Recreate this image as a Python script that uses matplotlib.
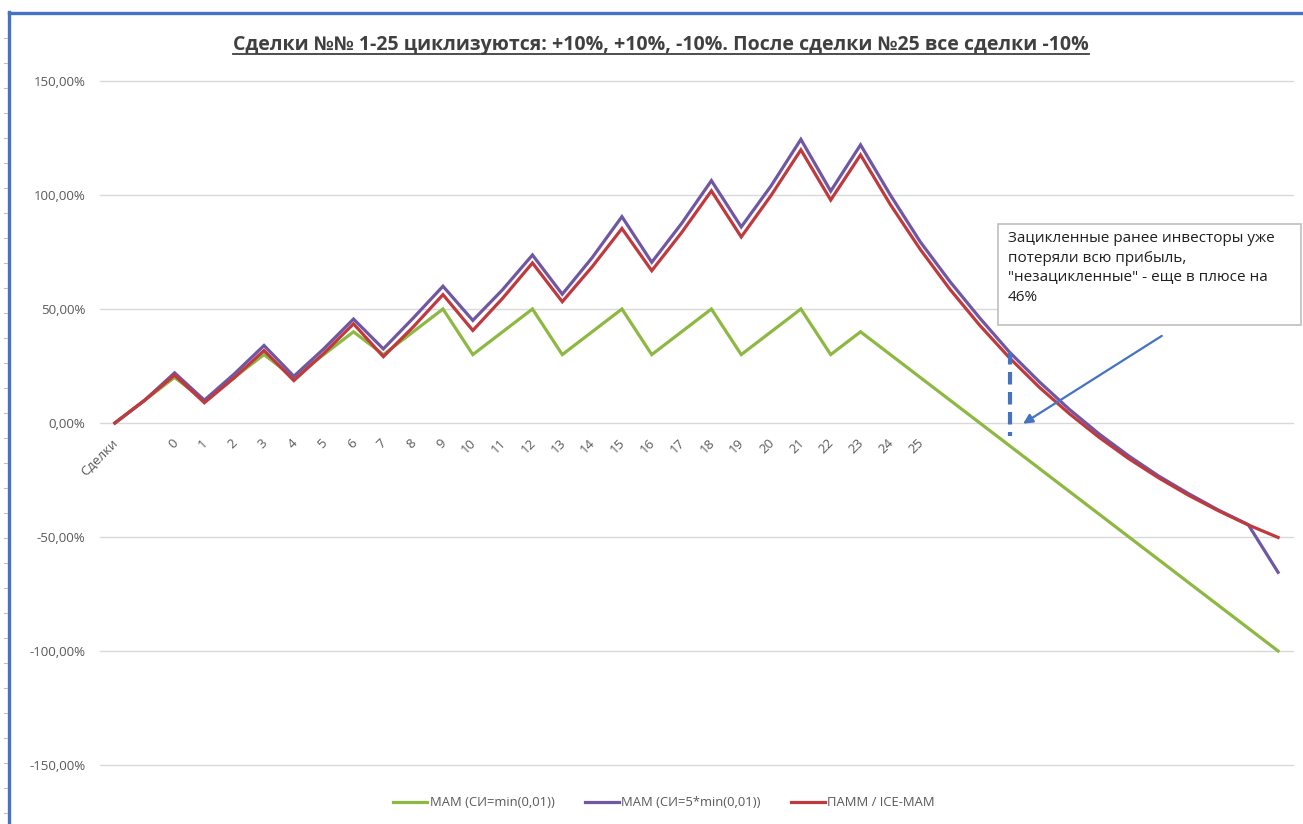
import matplotlib
matplotlib.use("Agg")
import matplotlib.pyplot as plt
from matplotlib.lines import Line2D
from matplotlib.patches import Rectangle
from matplotlib.ticker import FuncFormatter

plt.rcParams['font.family'] = ['Open Sans', 'DejaVu Sans']

# Category labels along the trade axis
categories = ['Сделки', ''] + [str(i) for i in range(26)] + [''] * 12

# Cumulative result, %
mam_min = [0, 10, 20, 10, 20, 30, 20, 30, 40, 30,
           40, 50, 30, 40, 50, 30, 40, 50, 30, 40,
           50, 30, 40, 50, 30, 40, 30, 20, 10, 0,
           -10, -20, -30, -40, -50, -60, -70, -80, -90, -100]
mam_5min = [0, 10, 22, 10, 21.5, 34, 20.5, 32.5, 45.6, 32.5,
            46, 60, 45, 58.5, 73.7, 56.5, 72.5, 90.5, 70.5, 87.5,
            106.3, 86, 104, 124.4, 101.7, 122, 100, 79.5, 62, 46,
            31, 18, 6, -4.8, -14.5, -23.3, -31, -38.2, -44.6, -65.5]
pamm = [0, 10, 21, 8.9, 19.8, 31.8, 18.6, 30.5, 43.5, 29.1,
        42.1, 56.3, 40.6, 54.7, 70.2, 53.2, 68.5, 85.3, 66.8, 83.5,
        101.8, 81.6, 99.8, 119.8, 97.8, 117.6, 95.8, 76.2, 58.6, 42.8,
        28.5, 15.6, 4.1, -6.3, -15.7, -24.1, -31.7, -38.5, -44.7, -50.2]

series_names = ['МАМ (СИ=min(0,01))', 'МАМ (СИ=5*min(0,01))', 'ПАММ / ICE-МАМ']
series_colors = ['#8DB842', '#7057A3', '#C0393D']

y_ticks = [-150, -100, -50, 0, 50, 100, 150]

title = 'Сделки №№ 1-25 циклизуются: +10%, +10%, -10%. После сделки №25 все сделки -10%'
note = ('Зацикленные ранее инвесторы уже\n'
        'потеряли всю прибыль,\n'
        '"незацикленные" - еще в плюсе на\n'
        '46%')

W, H = 1303, 824
fig = plt.figure(figsize=(W / 100, H / 100), dpi=100)
fig.patch.set_facecolor('white')

ax = fig.add_axes([100 / W, 1 - 765 / H, 1193 / W, 684 / H])
x = list(range(len(categories)))

for vals, name, col in zip([mam_min, mam_5min, pamm], series_names, series_colors):
    ax.plot(x, vals, color=col, lw=2.3, label=name, solid_joinstyle='miter', zorder=3)

ax.set_xlim(-0.5, len(categories) - 0.5)
ax.set_ylim(-150, 150)
ax.set_yticks(y_ticks)
ax.yaxis.set_major_formatter(FuncFormatter(lambda v, p: f'{v:.2f}%'.replace('.', ',')))
ax.grid(axis='y', color='#D9D9D9', lw=1)
for gl in ax.get_ygridlines():
    gl.set_clip_on(False)
ax.set_axisbelow(True)
for s in ax.spines.values():
    s.set_visible(False)
ax.tick_params(axis='y', length=0, pad=10.5, labelsize=9.5, labelcolor='#595959')
ax.tick_params(axis='x', length=0, labelbottom=False)

# category labels hang below the zero line
for xi, lab in zip(x, categories):
    if lab:
        ax.annotate(lab, xy=(xi, 0), xytext=(-2.4, -9.6), textcoords='offset points',
                    rotation=45, ha='right', va='top', rotation_mode='anchor',
                    fontsize=9.5, color='#595959', annotation_clip=False)

# vertical dashed marker and pointer arrow
ax.plot([30, 30], [31, -5.5], color='#4472C4', lw=3, ls=(0, (3, 1.8)), zorder=4)
ax.annotate('', xy=(30.45, -0.3), xytext=(35.1, 38.2),
            arrowprops=dict(arrowstyle='-|>', color='#4472C4', lw=1.6, mutation_scale=14,
                            shrinkA=0, shrinkB=0), annotation_clip=False, zorder=5)

# text box
fig.patches.append(Rectangle((998 / W, 1 - 325 / H), 303 / W, 101 / H,
                             transform=fig.transFigure, facecolor='white',
                             edgecolor='#BFBFBF', lw=1.2, zorder=6))
fig.text(1008 / W, 1 - 231 / H, note, ha='left', va='top', fontsize=11,
         color='#1F1F1F', linespacing=1.42, zorder=7)

# title with underline
t = fig.text(661 / W, 1 - 45 / H, title, ha='center', va='center', fontsize=14,
             fontweight='bold', color='#404040')
fig.canvas.draw()
bb = t.get_window_extent(fig.canvas.get_renderer())
uy = (bb.y0 + 1) / H
fig.lines.append(Line2D([bb.x0 / W, bb.x1 / W], [uy, uy], transform=fig.transFigure,
                        color='#404040', lw=1.3))

# legend
fig.legend(loc='center', bbox_to_anchor=(664 / W, 1 - 803 / H), ncol=3, frameon=False,
           fontsize=9.4, labelcolor='#595959', handlelength=2.6, handletextpad=0.2,
           columnspacing=2.3)

# sheet border
fig.lines.append(Line2D([8.5 / W, 8.5 / W], [0, 1 - 12 / H], transform=fig.transFigure,
                        color='#4472C4', lw=2.4))
fig.lines.append(Line2D([8.5 / W, 1], [1 - 13 / H, 1 - 13 / H], transform=fig.transFigure,
                        color='#4472C4', lw=2.4))
for ry in range(38, 824, 25):
    fig.lines.append(Line2D([4 / W, 7 / W], [1 - ry / H, 1 - ry / H], transform=fig.transFigure,
                            color='#BFBFBF', lw=0.8))

fig.savefig('out.png', dpi=100, facecolor='white')
